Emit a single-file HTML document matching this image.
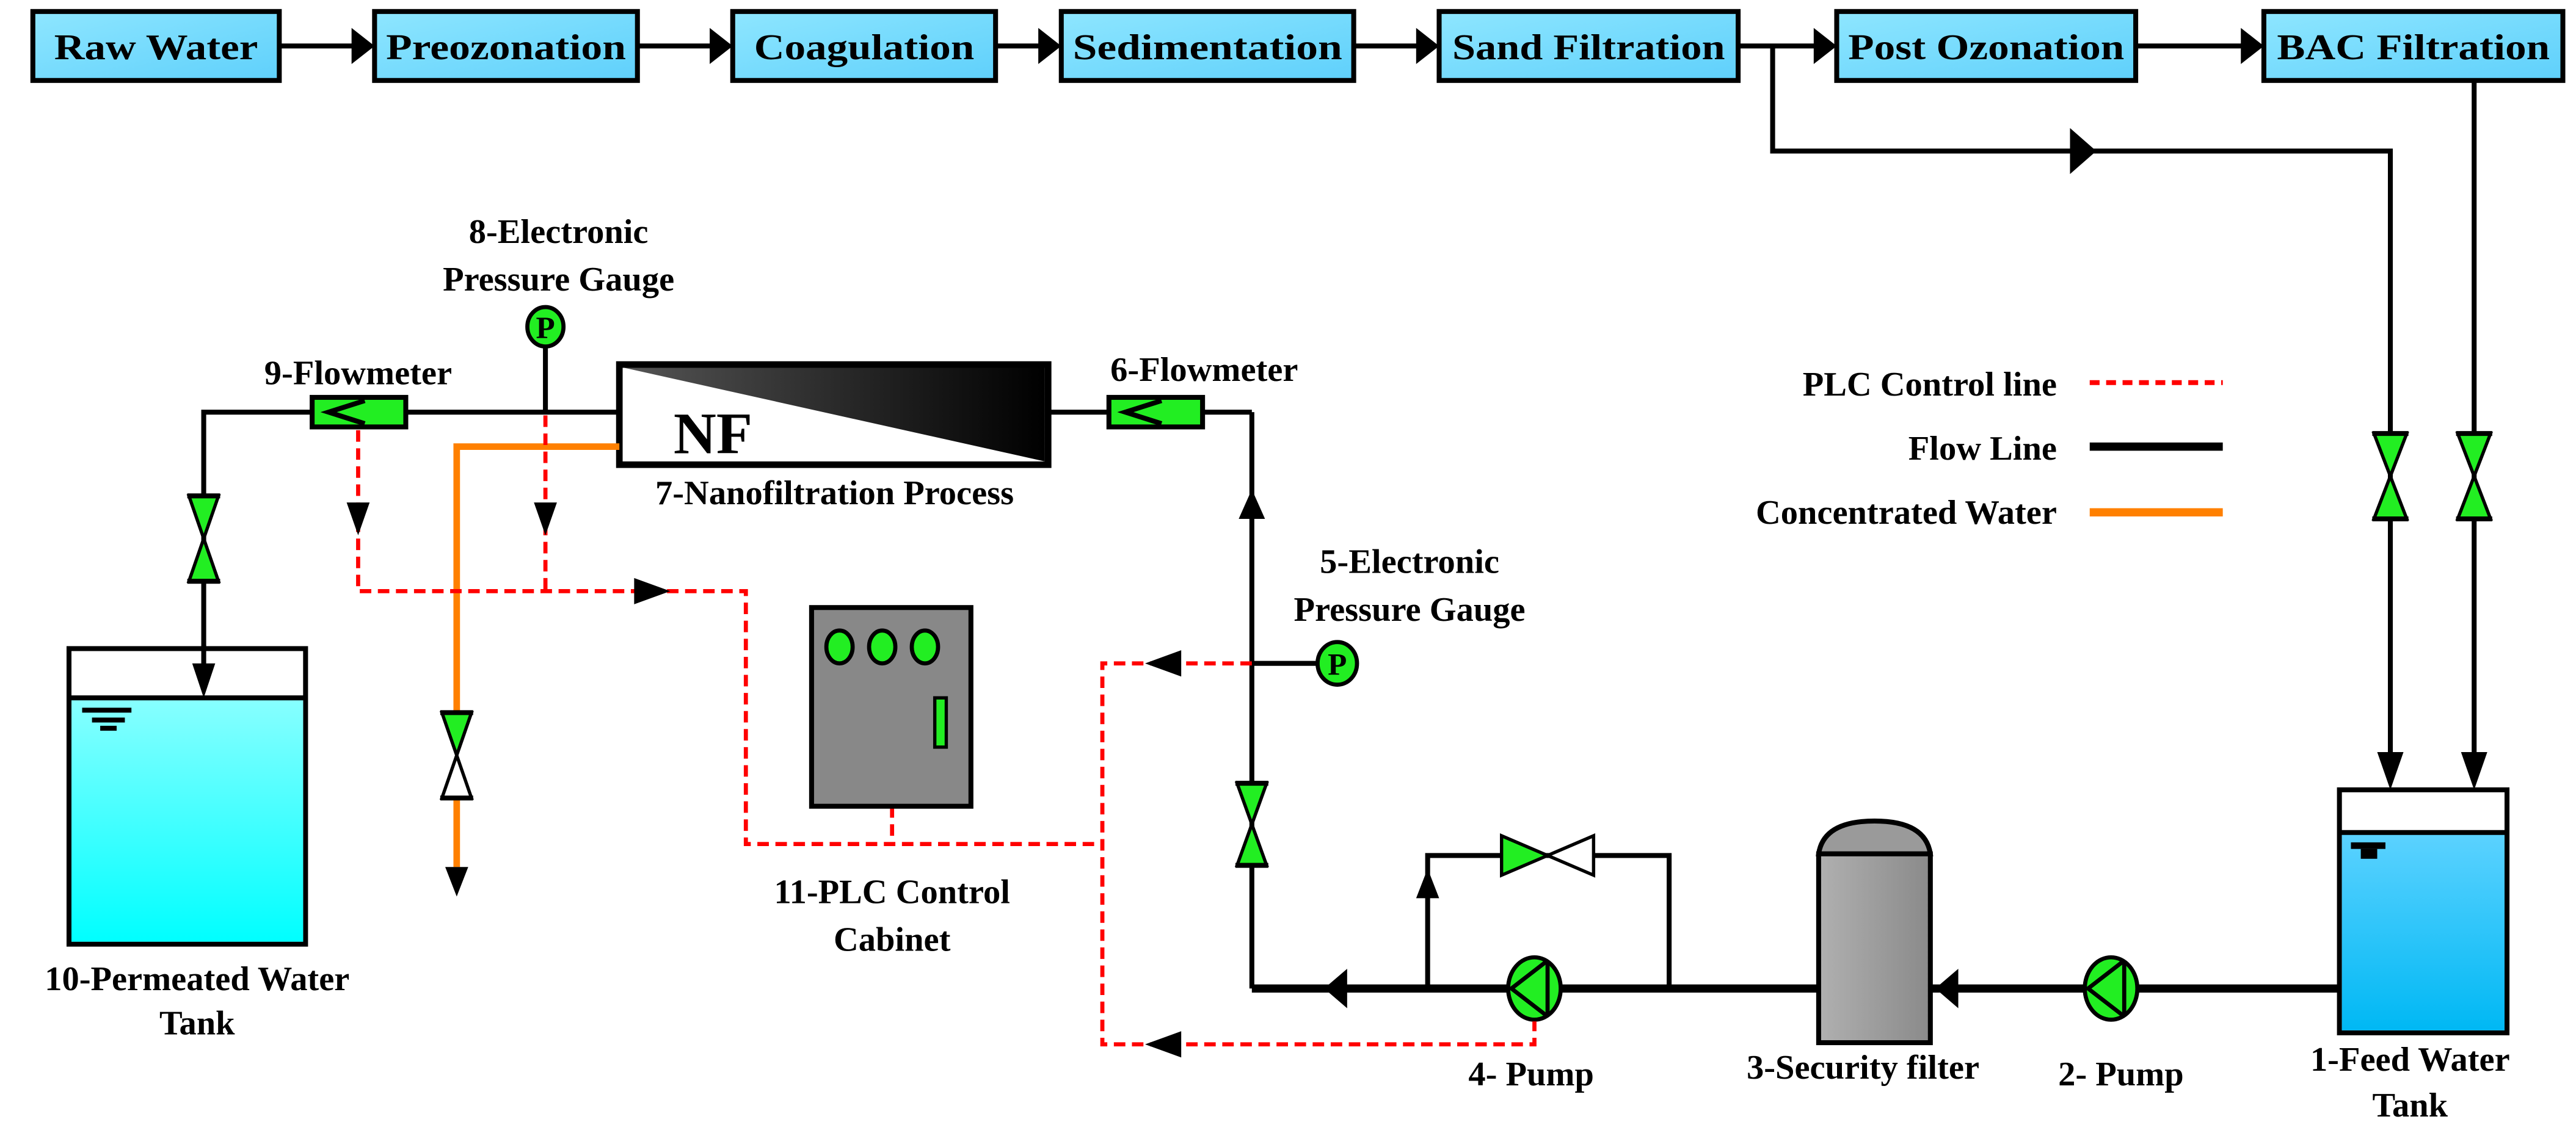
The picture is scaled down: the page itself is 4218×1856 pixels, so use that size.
<!DOCTYPE html>
<html><head><meta charset="utf-8"><style>
html,body{margin:0;padding:0;background:#fff;}
svg{display:block;}
svg text{font-family:"Liberation Serif","DejaVu Serif","Times New Roman",serif !important;font-weight:bold;fill:#000;}
</style></head><body>
<svg width="4218" height="1856" viewBox="0 0 1568 690" preserveAspectRatio="none" xmlns="http://www.w3.org/2000/svg" font-family="Liberation Serif, DejaVu Serif, serif">
<defs>
<linearGradient id="box" x1="0" y1="0" x2="1" y2="1"><stop offset="0" stop-color="#8ee6ff"/><stop offset="1" stop-color="#5fd0fb"/></linearGradient>
<linearGradient id="nf" x1="0" y1="0" x2="1" y2="0"><stop offset="0" stop-color="#555"/><stop offset="1" stop-color="#000"/></linearGradient>
<linearGradient id="w10" x1="0" y1="0" x2="0" y2="1"><stop offset="0" stop-color="#88ffff"/><stop offset="1" stop-color="#00ffff"/></linearGradient>
<linearGradient id="w1" x1="0" y1="0" x2="0" y2="1"><stop offset="0" stop-color="#5cd2ff"/><stop offset="1" stop-color="#00b8f4"/></linearGradient>
<linearGradient id="flt" x1="0" y1="0" x2="1" y2="0"><stop offset="0" stop-color="#b0b0b0"/><stop offset="1" stop-color="#8a8a8a"/></linearGradient>
</defs>

<!-- top process boxes -->
<g stroke="#000" stroke-width="3" fill="url(#box)">
<rect x="20" y="7" width="150" height="42"/>
<rect x="228" y="7" width="160" height="42"/>
<rect x="446" y="7" width="160" height="42"/>
<rect x="646" y="7" width="178" height="42"/>
<rect x="876" y="7" width="182" height="42"/>
<rect x="1118" y="7" width="182" height="42"/>
<rect x="1378" y="7" width="182" height="42"/>
</g>
<g font-size="22">
<text x="95" y="36" text-anchor="middle" textLength="124" lengthAdjust="spacingAndGlyphs">Raw Water</text>
<text x="308" y="36" text-anchor="middle" textLength="146" lengthAdjust="spacingAndGlyphs">Preozonation</text>
<text x="526" y="36" text-anchor="middle" textLength="134" lengthAdjust="spacingAndGlyphs">Coagulation</text>
<text x="735" y="36" text-anchor="middle" textLength="164" lengthAdjust="spacingAndGlyphs">Sedimentation</text>
<text x="967" y="36" text-anchor="middle" textLength="166" lengthAdjust="spacingAndGlyphs">Sand Filtration</text>
<text x="1209" y="36" text-anchor="middle" textLength="168" lengthAdjust="spacingAndGlyphs">Post Ozonation</text>
<text x="1469" y="36" text-anchor="middle" textLength="166" lengthAdjust="spacingAndGlyphs">BAC Filtration</text>
</g>
<g stroke="#000" stroke-width="3" fill="none">
<line x1="170" y1="28" x2="218" y2="28"/>
<line x1="388" y1="28" x2="436" y2="28"/>
<line x1="606" y1="28" x2="636" y2="28"/>
<line x1="824" y1="28" x2="866" y2="28"/>
<line x1="1058" y1="28" x2="1108" y2="28"/>
<line x1="1300" y1="28" x2="1368" y2="28"/>
<polyline points="1079,28 1079,92 1455,92 1455,470"/>
<line x1="1506" y1="49" x2="1506" y2="470"/>
</g>
<g fill="#000">
<polygon points="214,17 228,28 214,39"/>
<polygon points="432,17 446,28 432,39"/>
<polygon points="632,17 646,28 632,39"/>
<polygon points="862,17 876,28 862,39"/>
<polygon points="1104,17 1118,28 1104,39"/>
<polygon points="1364,17 1378,28 1364,39"/>
<polygon points="1260,78 1276,92 1260,106"/>
</g>

<!-- legend -->
<g font-size="21" text-anchor="end">
<text x="1252" y="241">PLC Control line</text>
<text x="1252" y="280">Flow Line</text>
<text x="1252" y="319">Concentrated Water</text>
</g>
<line x1="1272" y1="233" x2="1353" y2="233" stroke="#f00" stroke-width="3" stroke-dasharray="6,4"/>
<line x1="1272" y1="272" x2="1353" y2="272" stroke="#000" stroke-width="5"/>
<line x1="1272" y1="312" x2="1353" y2="312" stroke="#ff8000" stroke-width="5"/>

<!-- valves feed -->
<g stroke="#000" stroke-width="2" fill="#22ee22">
<polygon points="1445,264 1465,264 1455,290"/><polygon points="1445,316 1465,316 1455,290"/>
<polygon points="1496,264 1516,264 1506,290"/><polygon points="1496,316 1516,316 1506,290"/>
</g>
<g stroke="#000" stroke-width="3">
<line x1="1444" y1="264" x2="1466" y2="264"/><line x1="1444" y1="316" x2="1466" y2="316"/>
<line x1="1495" y1="264" x2="1517" y2="264"/><line x1="1495" y1="316" x2="1517" y2="316"/>
</g>

<!-- feed tank -->
<rect x="1424" y="481" width="102" height="148" fill="#fff" stroke="#000" stroke-width="3"/>
<rect x="1425.5" y="507" width="99" height="120.5" fill="url(#w1)"/>
<line x1="1424" y1="507" x2="1526" y2="507" stroke="#000" stroke-width="3"/>
<rect x="1431" y="513" width="21" height="4" fill="#000"/><rect x="1437" y="517" width="10" height="6" fill="#000"/>
<g fill="#000">
<polygon points="1447,458 1463,458 1455,481"/>
<polygon points="1498,458 1514,458 1506,481"/>
</g>
<text x="1467" y="652" font-size="21" text-anchor="middle">1-Feed Water</text>
<text x="1467" y="680" font-size="21" text-anchor="middle">Tank</text>

<!-- main bottom pipe -->
<g stroke="#000" fill="none">
<line x1="1175" y1="602" x2="1424" y2="602" stroke-width="5"/>
<line x1="762" y1="602" x2="1107" y2="602" stroke-width="5"/>
<polyline points="869,602 869,521 1016,521 1016,602" stroke-width="3"/>
<line x1="762" y1="602" x2="762" y2="251" stroke-width="3"/>
<line x1="732" y1="251" x2="762" y2="251" stroke-width="3"/>
<line x1="638" y1="251" x2="675" y2="251" stroke-width="3"/>
<line x1="762" y1="404" x2="802" y2="404" stroke-width="3"/>
</g>
<g fill="#000">
<polygon points="1178,602 1192,590 1192,614"/>
<polygon points="806,602 820,590 820,614"/>
<polygon points="869,529 862,547 876,547"/>
<polygon points="762,298 754,316 770,316"/>
</g>
<!-- bypass valve -->
<g stroke="#000" stroke-width="2">
<polygon points="914,509 914,533 942,521" fill="#22ee22"/>
<polygon points="970,509 970,533 942,521" fill="#fff"/>
</g>
<!-- security filter -->
<path d="M1107,520 Q1110,500 1141,500 Q1172,500 1175,520 Z" fill="#9a9a9a" stroke="#000" stroke-width="3"/>
<rect x="1107" y="520" width="68" height="115" fill="url(#flt)" stroke="#000" stroke-width="3"/>
<!-- pumps -->
<g stroke="#000" stroke-width="2.5">
<ellipse cx="1285" cy="602" rx="16" ry="19" fill="#22ee22"/>
<polyline points="1293,585 1271,602 1293,619" fill="none"/><line x1="1293" y1="585" x2="1293" y2="619"/>
<ellipse cx="934" cy="602" rx="16" ry="19" fill="#22ee22"/>
<polyline points="942,585 920,602 942,619" fill="none"/><line x1="942" y1="585" x2="942" y2="619"/>
</g>
<g font-size="21" text-anchor="middle">
<text x="932" y="661">4- Pump</text>
<text x="1134" y="657">3-Security filter</text>
<text x="1291" y="661">2- Pump</text>
</g>
<!-- valve on vertical main -->
<g stroke="#000" stroke-width="2" fill="#22ee22">
<polygon points="753,477 771,477 762,502"/><polygon points="753,527 771,527 762,502"/>
</g>
<g stroke="#000" stroke-width="3"><line x1="752" y1="477" x2="772" y2="477"/><line x1="752" y1="527" x2="772" y2="527"/></g>
<!-- gauge 5 -->
<ellipse cx="814" cy="404" rx="12" ry="13" fill="#22ee22" stroke="#000" stroke-width="2.5"/>
<text x="814" y="411" font-size="19" text-anchor="middle">P</text>
<text x="858" y="349" font-size="21" text-anchor="middle">5-Electronic</text>
<text x="858" y="378" font-size="21" text-anchor="middle">Pressure Gauge</text>

<!-- flowmeter 6 -->
<rect x="675" y="242" width="57" height="18" fill="#22ee22" stroke="#000" stroke-width="3"/>
<polyline points="707,244 685,251 707,258" fill="none" stroke="#000" stroke-width="3"/>
<text x="733" y="232" font-size="21" text-anchor="middle">6-Flowmeter</text>

<!-- NF -->
<rect x="377" y="222" width="261" height="61" fill="#fff" stroke="#000" stroke-width="4"/>
<polygon points="380,224 636,224 636,281" fill="url(#nf)"/>
<text x="434" y="276" font-size="36" text-anchor="middle" textLength="48" lengthAdjust="spacingAndGlyphs">NF</text>
<text x="508" y="307" font-size="21" text-anchor="middle">7-Nanofiltration Process</text>

<!-- left pipe -->
<g stroke="#000" stroke-width="3" fill="none">
<polyline points="377,251 248,251"/>
<polyline points="190,251 124,251 124,418"/>
<line x1="332" y1="211" x2="332" y2="251"/>
</g>
<rect x="190" y="242" width="57" height="18" fill="#22ee22" stroke="#000" stroke-width="3"/>
<polyline points="222,244 200,251 222,258" fill="none" stroke="#000" stroke-width="3"/>
<text x="218" y="234" font-size="21" text-anchor="middle">9-Flowmeter</text>
<ellipse cx="332" cy="199" rx="11" ry="12" fill="#22ee22" stroke="#000" stroke-width="2.5"/>
<text x="332" y="206" font-size="19" text-anchor="middle">P</text>
<text x="340" y="148" font-size="21" text-anchor="middle">8-Electronic</text>
<text x="340" y="177" font-size="21" text-anchor="middle">Pressure Gauge</text>
<g stroke="#000" stroke-width="2" fill="#22ee22">
<polygon points="115,302 133,302 124,328"/><polygon points="115,354 133,354 124,328"/>
</g>
<g stroke="#000" stroke-width="3"><line x1="114" y1="302" x2="134" y2="302"/><line x1="114" y1="354" x2="134" y2="354"/></g>

<!-- tank 10 -->
<rect x="42" y="395" width="144" height="180" fill="#fff" stroke="#000" stroke-width="3"/>
<rect x="43.5" y="425" width="141" height="148.5" fill="url(#w10)"/>
<line x1="42" y1="425" x2="186" y2="425" stroke="#000" stroke-width="3"/>
<line x1="124" y1="393" x2="124" y2="410" stroke="#000" stroke-width="3"/>
<polygon points="124,425 117,404 131,404" fill="#000"/>
<g fill="#000"><rect x="50" y="431" width="30" height="3"/><rect x="56" y="437" width="20" height="3"/><rect x="61" y="442" width="10" height="3"/></g>
<text x="120" y="603" font-size="21" text-anchor="middle">10-Permeated Water</text>
<text x="120" y="630" font-size="21" text-anchor="middle">Tank</text>

<!-- orange -->
<polyline points="377,272 278,272 278,434" fill="none" stroke="#ff8000" stroke-width="4"/>
<line x1="278" y1="487" x2="278" y2="528" stroke="#ff8000" stroke-width="4"/>
<polygon points="278,546 271,528 285,528" fill="#000"/>
<g stroke="#000" stroke-width="2">
<polygon points="269,434 287,434 278,460" fill="#22ee22"/><polygon points="269,486 287,486 278,460" fill="#fff"/>
</g>
<g stroke="#000" stroke-width="3"><line x1="268" y1="434" x2="288" y2="434"/><line x1="268" y1="486" x2="288" y2="486"/></g>

<!-- red dashed control lines -->
<g stroke="#f00" stroke-width="2.5" fill="none" stroke-dasharray="7,4">
<polyline points="218,262 218,360 454,360 454,514 671,514"/>
<line x1="332" y1="253" x2="332" y2="360"/>
<line x1="543" y1="491" x2="543" y2="514"/>
<polyline points="762,404 671,404 671,636 934,636 934,622"/>
</g>
<g fill="#000">
<polygon points="218,326 211,306 225,306"/>
<polygon points="332,326 325,306 339,306"/>
<polygon points="408,360 386,352 386,368"/>
<polygon points="697,404 719,396 719,412"/>
<polygon points="697,636 719,628 719,644"/>
</g>

<!-- cabinet -->
<rect x="494" y="370" width="97" height="121" fill="#888" stroke="#000" stroke-width="3"/>
<g fill="#22ee22" stroke="#000" stroke-width="2.5">
<ellipse cx="511" cy="394" rx="8" ry="10"/><ellipse cx="537" cy="394" rx="8" ry="10"/><ellipse cx="563" cy="394" rx="8" ry="10"/>
</g>
<rect x="569" y="425" width="7" height="30" fill="#22ee22" stroke="#000" stroke-width="2"/>
<text x="543" y="550" font-size="21" text-anchor="middle">11-PLC Control</text>
<text x="543" y="579" font-size="21" text-anchor="middle">Cabinet</text>
</svg>
</body></html>
